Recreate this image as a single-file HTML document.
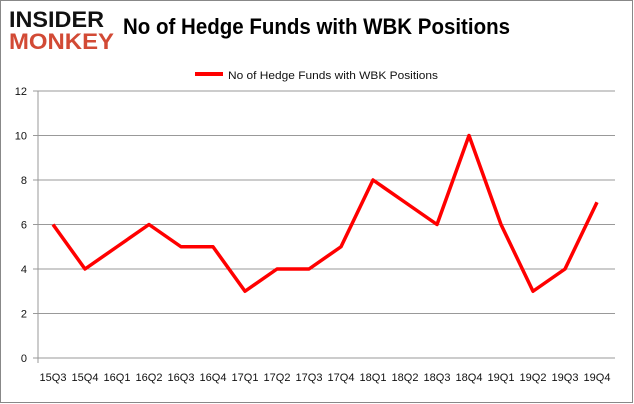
<!DOCTYPE html>
<html><head><meta charset="utf-8"><style>
body{margin:0;background:#fff}
svg{display:block;font-family:"Liberation Sans",sans-serif}
</style></head><body>
<svg width="634" height="404">
<rect x="0.5" y="0.5" width="632" height="402" fill="#fff" stroke="#888"/>
<g>
<text x="9" y="27" font-size="22" font-weight="bold" fill="#111" textLength="95" lengthAdjust="spacingAndGlyphs">INSIDER</text>
<text x="9" y="49" font-size="22" font-weight="bold" fill="#d24a35" textLength="105" lengthAdjust="spacingAndGlyphs">MONKEY</text>
</g>
<text x="123" y="34" font-size="22" font-weight="bold" fill="#000" textLength="387" lengthAdjust="spacingAndGlyphs">No of Hedge Funds with WBK Positions</text>
<line x1="195" y1="74" x2="223" y2="74" stroke="#f00" stroke-width="4"/>
<text x="228" y="79" font-size="11" fill="#111" textLength="210" lengthAdjust="spacingAndGlyphs">No of Hedge Funds with WBK Positions</text>
<g id="grid"></g><g id="plot"></g>
<script>
const categories=["15Q3","15Q4","16Q1","16Q2","16Q3","16Q4","17Q1","17Q2","17Q3","17Q4","18Q1","18Q2","18Q3","18Q4","19Q1","19Q2","19Q3","19Q4"];
const values=[6,4,5,6,5,5,3,4,4,5,8,7,6,10,6,3,4,7];
const yTicks=[0,2,4,6,8,10,12];
const NS="http://www.w3.org/2000/svg";
const x0=53,x1=597,yb=358,yt=91;
const xs=i=>x0+(x1-x0)*i/(categories.length-1);
const ys=v=>yb-(yb-yt)*v/12;
const g=document.getElementById('grid'),p=document.getElementById('plot');
function mk(t,a,par){const e=document.createElementNS(NS,t);for(const k in a)e.setAttribute(k,a[k]);par.appendChild(e);return e;}
yTicks.forEach(v=>{
 const l=mk('line',{x1:33,x2:615,y1:ys(v),y2:ys(v),stroke:'#999','stroke-width':1},g);
 
 
 const t=mk('text',{x:27,y:ys(v)+4,'font-size':11,'text-anchor':'end',fill:'#111'},g);
 t.textContent=v;
 
 
});
const ax=mk('line',{x1:38,x2:38,y1:yt,y2:yb+5,stroke:'#999'},g);


categories.forEach((c,i)=>{
 const t=mk('text',{x:xs(i),y:381,'font-size':11,'text-anchor':'middle',fill:'#111'},g);
 t.textContent=c;
 
 
});
const pl=mk('polyline',{points:values.map((v,i)=>xs(i)+','+ys(v)).join(' '),fill:'none',stroke:'#f00','stroke-width':3.5,'stroke-linejoin':'round'},p);


</script>
</svg>
</body></html>
